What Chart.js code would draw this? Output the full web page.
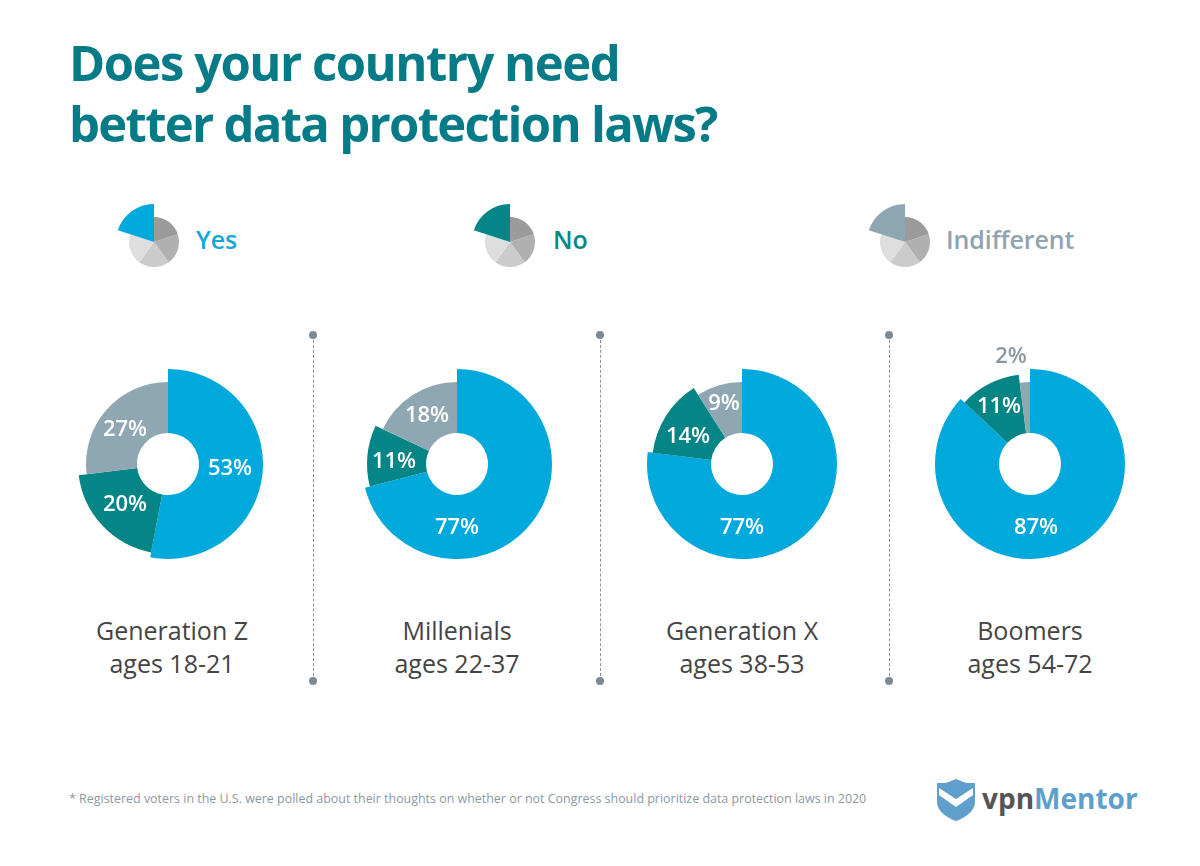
<!DOCTYPE html>
<html>
<head>
<meta charset="utf-8">
<script src="https://cdn.jsdelivr.net/npm/chart.js@4"></script>
<style>
    body { margin: 0; background: #fff; width: 1200px; height: 866px; overflow: hidden; position: relative; font-family: "Open Sans", sans-serif; }
    canvas { position: absolute; }
    .title { position: absolute; left: 69px; top: 32px; font-size: 49px; line-height: 61px; font-weight: 700; letter-spacing: -1.5px; color: #067b88; white-space: nowrap; }
    .title span { letter-spacing: -1.7px; }
    .legend { position: absolute; top: 221px; font-size: 25px; line-height: 36px; font-weight: 600; letter-spacing: -0.1px; }
    .caption { position: absolute; top: 614px; width: 260px; text-align: center; font-size: 25px; line-height: 33px; color: #444; }
    .sep { position: absolute; top: 335px; height: 346px; border-left: 1px dashed #8b95a0; }
    .dot { position: absolute; width: 8px; height: 8px; border-radius: 50%; background: #7d8a96; }
    .note { position: absolute; left: 69px; top: 790px; font-size: 12.45px; line-height: 17px; color: #8b98a3; white-space: nowrap; }
    .logo { position: absolute; left: 982px; top: 776px; font-size: 28px; line-height: 44px; font-weight: 700; color: #555; white-space: nowrap; }
    .logo span { color: #5f9fcb; }
    svg { position: absolute; }
</style>
</head>
<body>
<div class="title">Does your country need<br><span>better data protection laws?</span></div>

<div class="legend" style="left:196px;color:#16a6d8">Yes</div>
<div class="legend" style="left:553px;color:#0b878a">No</div>
<div class="legend" style="left:946px;color:#8da5af">Indifferent</div>

<div class="note">* Registered voters in the U.S. were polled about their thoughts on whether or not Congress should prioritize data protection laws in 2020</div>

<svg style="left:936px;top:778px" width="40" height="44" viewBox="0 0 40 44">
    <path d="M1 5 L10 5 L20 1 L30 5 L39 5 L39 24 C39 33 29 40 20 43 C11 40 1 33 1 24 Z" fill="#5f9fcb"/>
    <path d="M3 10 L20 21 L37 10 L37 17 L20 29 L3 17 Z" fill="#fff"/>
</svg>
<div class="logo">vpn<span>Mentor</span></div>

<script>
// series order: Yes, No, Indifferent
const groups = ['Generation Z', 'Millenials', 'Generation X', 'Boomers'];
const ages = ['ages 18-21', 'ages 22-37', 'ages 38-53', 'ages 54-72'];
const genZ = [53, 20, 27];
const millenials = [71, 11, 18]; // slice sizes as drawn, the printed labels add up to 106
const genX = [77, 14, 9];
const boomers = [87, 11, 2];
const genZLabels = ['53%', '20%', '27%'];
const millenialsLabels = ['77%', '11%', '18%'];
const genXLabels = ['77%', '14%', '9%'];
const boomersLabels = ['87%', '11%', '2%'];
const seriesColors = ['#00a9db', '#068587', '#8ea7b2'];
const iconValues = [1, 1, 1, 1, 1];
const iconGreys = ['#9b9b9b', '#b0b0b0', '#cbcbcb', '#dedede'];

// layout
const donutCenters = [[168, 464], [457, 464], [742, 464], [1030, 464]];
const captionCenters = [172, 457, 742, 1030];
const donutRadii = [95, 90, 82];
const holeRadius = 31;
const labelOffsets = [
    [[62, 3], [-43, 39], [-43, -36]],
    [[0, 62], [-63, -4], [-30, -50]],
    [[0, 62], [-54, -29], [-18, -62]],
    [[6, 62], [-31, -59], [-19, -109]]
];
const iconCenters = [[154, 242], [510, 242], [905, 242]];
const iconRadii = [25, 25, 25, 25, 38];
const sepX = [313, 600, 889];

// per slice radius and text, chart.js has no option for either
const sliceLook = {
    id: 'sliceLook',
    afterDatasetsUpdate(chart, args, opts) {
        chart.getDatasetMeta(0).data.forEach(function (arc, i) {
            arc.outerRadius = opts.radii[i];
            arc.innerRadius = opts.hole;
        });
    },
    afterDatasetsDraw(chart, args, opts) {
        if (!opts.labels) return;
        const ctx = chart.ctx;
        const arc = chart.getDatasetMeta(0).data[0];
        ctx.save();
        ctx.font = '600 22px "Open Sans"';
        ctx.textAlign = 'center';
        ctx.textBaseline = 'middle';
        opts.labels.forEach(function (text, i) {
            ctx.fillStyle = opts.offsets[i][1] < -100 ? '#8b98a3' : '#fff';
            ctx.fillText(text, arc.x + opts.offsets[i][0], arc.y + opts.offsets[i][1] + 2);
        });
        ctx.restore();
    }
};

function addPie(center, size, values, colors, look) {
    const canvas = document.createElement('canvas');
    canvas.width = size;
    canvas.height = size;
    canvas.style.left = (center[0] - size / 2) + 'px';
    canvas.style.top = (center[1] - size / 2) + 'px';
    document.body.appendChild(canvas);
    new Chart(canvas, {
        type: 'doughnut',
        data: { datasets: [{ data: values, backgroundColor: colors, borderWidth: 0 }] },
        options: {
            responsive: false,
            animation: false,
            plugins: { legend: { display: false }, tooltip: { enabled: false }, sliceLook: look }
        },
        plugins: [sliceLook]
    });
}

const allValues = [genZ, millenials, genX, boomers];
const allLabels = [genZLabels, millenialsLabels, genXLabels, boomersLabels];

for (let i = 0; i < groups.length; i++) {
    addPie(donutCenters[i], 240, allValues[i], seriesColors, {
        radii: donutRadii, hole: holeRadius, labels: allLabels[i], offsets: labelOffsets[i]
    });
    const cap = document.createElement('div');
    cap.className = 'caption';
    cap.style.left = (captionCenters[i] - 130) + 'px';
    cap.innerHTML = groups[i] + '<br>' + ages[i];
    document.body.appendChild(cap);
}

for (let i = 0; i < iconCenters.length; i++) {
    addPie(iconCenters[i], 90, iconValues, iconGreys.concat(seriesColors[i]), { radii: iconRadii, hole: 0 });
}

sepX.forEach(function (x) {
    const line = document.createElement('div');
    line.className = 'sep';
    line.style.left = x + 'px';
    document.body.appendChild(line);
    [335, 681].forEach(function (y) {
        const dot = document.createElement('div');
        dot.className = 'dot';
        dot.style.left = (x - 4) + 'px';
        dot.style.top = (y - 4) + 'px';
        document.body.appendChild(dot);
    });
});
</script>
</body>
</html>
